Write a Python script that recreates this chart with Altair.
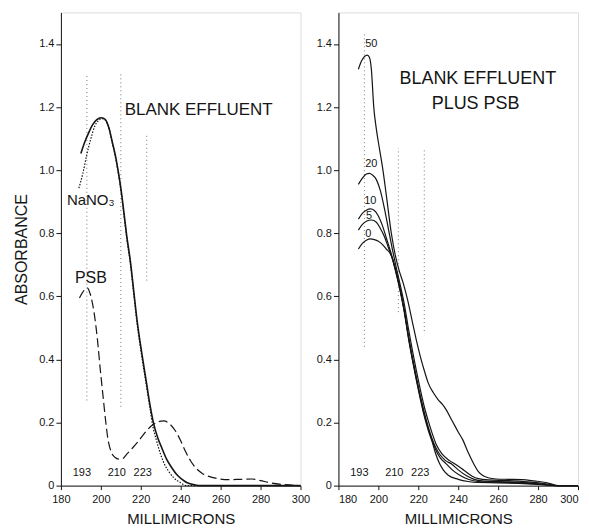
import altair as alt
import pandas as pd

# ---------------- Left panel data ----------------
blank_x = [190, 192, 194, 196, 198, 200, 202, 204, 205.7, 207.5, 209, 210.3, 211.5, 213, 214.8,
           216.5, 218.2, 220.5, 222.7, 224.5, 226.5, 228.5, 230.7, 233, 235.7, 238, 240.7, 243,
           247.3, 250, 260, 280, 300]
blank_y = [1.053, 1.09, 1.12, 1.145, 1.16, 1.166, 1.162, 1.135, 1.09, 1.04, 0.985, 0.93, 0.869,
           0.79, 0.711, 0.615, 0.521, 0.42, 0.332, 0.26, 0.195, 0.152, 0.117, 0.083, 0.055, 0.035,
           0.02, 0.01, 0.002, 0.0, 0.0, 0.0, 0.0]

nano3_x = [189, 191, 193, 195, 197, 199, 200.5, 202, 204, 205.7, 207.5, 209, 210.3, 211.5, 213,
           214.8, 216.5, 218.2, 220.5, 222.7, 224.5, 226, 228, 230, 232, 234, 236.5, 239.8, 243, 250]
nano3_y = [0.943, 0.99, 1.05, 1.10, 1.14, 1.158, 1.163, 1.16, 1.133, 1.088, 1.035, 0.98, 0.925,
           0.862, 0.783, 0.703, 0.607, 0.512, 0.41, 0.322, 0.25, 0.19, 0.14, 0.098, 0.066, 0.045,
           0.025, 0.01, 0.0, 0.0]

psb_x = [189.3, 191.5, 193.2, 194.8, 196.5, 198.2, 199.8, 201, 202.5, 203.5, 205, 207, 209, 211,
         213, 216, 219, 222, 226.5, 229, 231.5, 234, 237.3, 240, 242.3, 245, 247.3, 251, 255.7,
         264, 270, 275.7, 280, 284, 292, 300]
psb_y = [0.595, 0.618, 0.627, 0.605, 0.553, 0.469, 0.363, 0.29, 0.2, 0.15, 0.11, 0.09, 0.084, 0.086,
         0.1, 0.12, 0.142, 0.167, 0.195, 0.203, 0.205, 0.198, 0.174, 0.142, 0.11, 0.078, 0.058,
         0.038, 0.026, 0.019, 0.02, 0.021, 0.016, 0.01, 0.003, 0.0]

# ---------------- Right panel data ----------------
c0_x = [190, 192, 194, 196, 198, 200, 202, 204, 206, 207, 209, 211, 213, 215, 217, 219, 221, 223,
        225, 227, 228.5, 230.7, 232.5, 235, 240, 245, 250, 260, 270, 280, 290, 300]
c0_y = [0.75, 0.768, 0.778, 0.782, 0.78, 0.775, 0.765, 0.75, 0.735, 0.72, 0.67, 0.615, 0.55, 0.47,
        0.40, 0.335, 0.275, 0.22, 0.175, 0.138, 0.105, 0.069, 0.05, 0.033, 0.02, 0.013, 0.01,
        0.009, 0.007, 0.004, 0.0, 0.0]

c5_x = [190, 192, 194, 196.5, 199, 201, 203, 205, 207, 209, 211, 213, 215, 217, 219, 221, 223,
        225, 227, 229, 231, 234, 237, 241, 245, 250, 260, 270, 280, 290, 300]
c5_y = [0.81, 0.828, 0.838, 0.842, 0.835, 0.815, 0.79, 0.755, 0.72, 0.672, 0.618, 0.553, 0.474,
        0.404, 0.34, 0.28, 0.226, 0.18, 0.142, 0.11, 0.088, 0.069, 0.05, 0.032, 0.02, 0.013, 0.011,
        0.009, 0.005, 0.0, 0.0]

c10_x = [190, 192, 194, 196, 198, 200, 202, 204, 206, 208, 209.5, 211, 213, 215, 217, 219, 221,
         223, 225, 227, 229, 231, 233.5, 236.5, 240, 244, 248, 252, 260, 270, 280, 290, 300]
c10_y = [0.845, 0.863, 0.873, 0.877, 0.872, 0.855, 0.825, 0.785, 0.745, 0.70, 0.665, 0.62, 0.556,
         0.478, 0.408, 0.345, 0.285, 0.232, 0.186, 0.147, 0.118, 0.097, 0.08, 0.069, 0.05, 0.032,
         0.02, 0.015, 0.013, 0.011, 0.006, 0.0, 0.0]

c20_x = [190, 192, 194, 195.5, 197, 199, 201, 203, 205, 207, 209, 211, 213, 215, 217, 219, 221,
         223, 225, 227, 229, 232, 235.5, 239, 243, 247, 250, 255, 265, 275, 285, 290, 300]
c20_y = [0.955, 0.975, 0.988, 0.99, 0.985, 0.97, 0.935, 0.88, 0.815, 0.75, 0.69, 0.635, 0.575,
         0.5, 0.43, 0.365, 0.305, 0.25, 0.205, 0.165, 0.13, 0.1, 0.08, 0.066, 0.048, 0.03, 0.022,
         0.018, 0.016, 0.012, 0.005, 0.0, 0.0]

c50_x = [190, 191.5, 193, 194.5, 195.5, 196.5, 197.7, 199, 200.5, 202.3, 204, 206.5, 208.5, 210.5,
         212.3, 214.8, 217, 219, 221, 223, 225, 227.5, 230, 232, 234, 237, 240, 242.3, 245, 248.2,
         250, 252.3, 255, 259, 265, 272, 278, 284, 290, 300]
c50_y = [1.32, 1.345, 1.36, 1.365, 1.358, 1.32, 1.2, 1.13, 1.07, 1.0, 0.92, 0.8, 0.73, 0.68, 0.645,
         0.585, 0.52, 0.462, 0.41, 0.365, 0.325, 0.295, 0.272, 0.258, 0.24, 0.205, 0.17, 0.145,
         0.105, 0.064, 0.045, 0.032, 0.025, 0.021, 0.02, 0.019, 0.015, 0.01, 0.0, 0.0]

# reference wavelengths (dotted guide lines) and their labels
ref_wl = [193, 210, 223]
ref_label = ["193", "210", "223"]
ref_label_x = [190.5, 208, 221]
left_ref_top = [1.30, 1.31, 1.11]
left_ref_bot = [0.27, 0.25, 0.65]
right_ref_top = [1.44, 1.07, 1.07]
right_ref_bot = [0.44, 0.55, 0.49]

right_curve_names = ["50", "20", "10", "5", "0"]
right_label_x = [196.5, 196.5, 196, 195.3, 195]
right_label_y = [1.40, 1.02, 0.903, 0.855, 0.797]

y_ticks = [0, 0.2, 0.4, 0.6, 0.8, 1.0, 1.2, 1.4]
x_ticks = [180, 200, 220, 240, 260, 280, 300]

FONT = "Liberation Sans"
INK = "#151515"

xscale = alt.Scale(domain=[180, 300], nice=False, zero=False)
yscale = alt.Scale(domain=[0, 1.5], nice=False)


def xaxis(flush):
    return alt.Axis(values=x_ticks, title="MILLIMICRONS", grid=False, labelFontSize=11,
                    labelFlush=flush, titleFontSize=15, titleFontWeight="normal", titlePadding=7,
                    tickSize=4, labelPadding=4, domainColor=INK, tickColor=INK,
                    labelColor=INK, titleColor=INK, labelFont=FONT, titleFont=FONT)


def yaxis(title):
    kw = dict(values=y_ticks, grid=False, labelFontSize=11,
              labelExpr="datum.value == 0 ? '0' : format(datum.value, '.1f')",
              tickSize=5, labelPadding=2, domainColor=INK, tickColor=INK,
              labelColor=INK, labelFont=FONT)
    if title:
        return alt.Axis(title=title, titleFontSize=16, titleFontWeight="normal",
                        titlePadding=9, titleColor=INK, titleFont=FONT, **kw)
    return alt.Axis(title=None, **kw)


def curve(xs, ys, ytitle, flush, dash=None, width=1.3):
    df = pd.DataFrame({"wl": xs, "a": ys})
    kw = dict(color=INK, strokeWidth=width, interpolate="monotone")
    if dash:
        kw["strokeDash"] = dash
    return alt.Chart(df).mark_line(**kw).encode(
        x=alt.X("wl:Q", scale=xscale, axis=xaxis(flush)),
        y=alt.Y("a:Q", scale=yscale, axis=yaxis(ytitle)),
    )


def guides(tops, bots, ytitle, flush):
    df = pd.DataFrame({"wl": ref_wl, "top": tops, "bot": bots})
    return alt.Chart(df).mark_rule(color="#777", strokeDash=[1, 3], strokeWidth=1).encode(
        x=alt.X("wl:Q", scale=xscale, axis=xaxis(flush)),
        y=alt.Y("bot:Q", scale=yscale, axis=yaxis(ytitle)),
        y2="top:Q",
    )


def texts(labels, xs, ys, ytitle, flush, size, align="center"):
    df = pd.DataFrame({"t": labels, "wl": xs, "a": ys})
    return alt.Chart(df).mark_text(font=FONT, fontSize=size, color=INK, align=align,
                                   baseline="middle").encode(
        x=alt.X("wl:Q", scale=xscale, axis=xaxis(flush)),
        y=alt.Y("a:Q", scale=yscale, axis=yaxis(ytitle)),
        text="t:N",
    )


T = "ABSORBANCE"
L = False
left = alt.layer(
    guides(left_ref_top, left_ref_bot, T, L),
    curve(psb_x, psb_y, T, L, dash=[9, 4], width=1.2),
    curve(nano3_x, nano3_y, T, L, dash=[1.5, 1.5], width=1.2),
    curve(blank_x, blank_y, T, L, width=1.6),
    texts(ref_label, ref_label_x, [0.04, 0.04, 0.04], T, L, 11),
    texts(["BLANK EFFLUENT"], [249], [1.19], T, L, 17),
    texts(["NaNO₃"], [183], [0.905], T, L, 15, align="left"),
    texts(["PSB"], [195], [0.657], T, L, 16),
).properties(width=240, height=474)

R = True
right = alt.layer(
    guides(right_ref_top, right_ref_bot, None, R),
    curve(c0_x, c0_y, None, R, width=1.2),
    curve(c5_x, c5_y, None, R, width=1.2),
    curve(c10_x, c10_y, None, R, width=1.2),
    curve(c20_x, c20_y, None, R, width=1.2),
    curve(c50_x, c50_y, None, R, width=1.2),
    texts(ref_label, ref_label_x, [0.04, 0.04, 0.04], None, R, 11),
    texts(right_curve_names, right_label_x, right_label_y, None, R, 11),
    texts(["BLANK EFFLUENT"], [249.8], [1.29], None, R, 18),
    texts(["PLUS  PSB"], [248.7], [1.21], None, R, 18),
).properties(width=240, height=474)

chart = alt.hconcat(left, right, spacing=5).properties(
    padding={"left": 5, "top": 3, "right": 0, "bottom": 0}
).configure_view(stroke=INK, strokeWidth=1).configure(background="white")

chart.save("out.html", embed_options={"renderer": "svg", "actions": False})
